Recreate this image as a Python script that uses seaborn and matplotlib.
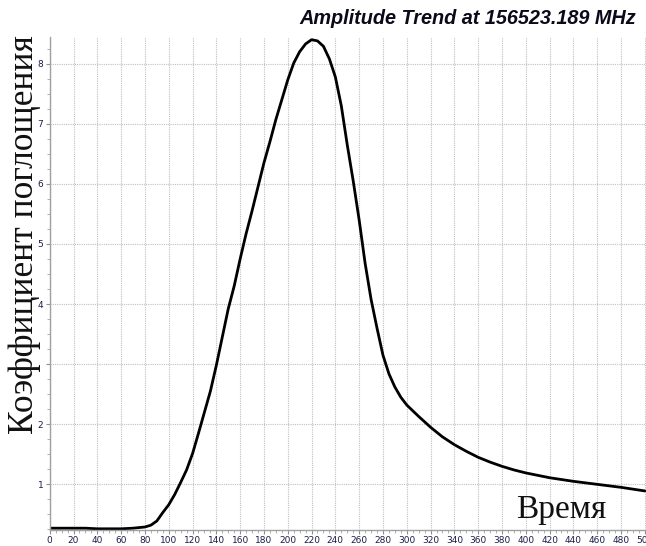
import matplotlib
matplotlib.use("Agg")
import matplotlib.pyplot as plt
import seaborn as sns
import pandas as pd
from matplotlib.ticker import MultipleLocator, FixedLocator

time_vals = [0, 10, 20, 30, 40, 50, 60, 70, 75, 80, 85, 90, 95, 100, 105, 110, 115, 120,
             125, 130, 135, 140, 145, 150, 155, 160, 165, 170, 175, 180, 185, 190, 195,
             200, 205, 210, 215, 220, 225, 230, 235, 240, 245, 250, 255, 260, 265, 270,
             275, 280, 285, 290, 295, 300, 310, 320, 330, 340, 350, 360, 370, 380, 390,
             400, 420, 440, 460, 480, 500]
amp_vals = [0.27, 0.27, 0.27, 0.27, 0.26, 0.26, 0.26, 0.27, 0.28, 0.29, 0.32, 0.39, 0.53,
            0.66, 0.83, 1.03, 1.24, 1.51, 1.85, 2.20, 2.55, 2.98, 3.45, 3.92, 4.30, 4.75,
            5.17, 5.55, 5.95, 6.35, 6.70, 7.07, 7.40, 7.73, 8.01, 8.20, 8.33, 8.40, 8.38,
            8.29, 8.08, 7.78, 7.30, 6.65, 6.05, 5.40, 4.68, 4.08, 3.60, 3.15, 2.84, 2.62,
            2.45, 2.32, 2.13, 1.95, 1.79, 1.66, 1.55, 1.45, 1.37, 1.30, 1.24, 1.19, 1.11,
            1.05, 1.00, 0.95, 0.89]

x_ticks = list(range(0, 501, 20))
x_tick_labels = [str(v) for v in x_ticks]
y_ticks = [1, 2, 3, 4, 5, 6, 7, 8]
y_tick_labels = ["1", "2", "", "4", "5", "6", "7", "8"]

title_text = "Amplitude Trend at 156523.189 MHz"
ylabel_text = "Коэффициент поглощения"
xlabel_text = "Время"

df = pd.DataFrame({"t": time_vals, "a": amp_vals})

sns.set_style("white")
plt.rcParams["font.family"] = ["DejaVu Sans"]

fig = plt.figure(figsize=(6.46, 5.46), dpi=100)
ax = fig.add_axes([49.7 / 646, 16 / 546, 1 - 49.7 / 646, (530 - 36.7) / 546])

sns.lineplot(data=df, x="t", y="a", ax=ax, color="black", linewidth=2.0)

ax.set_xlim(0, 501)
ax.set_ylim(0.24, 8.45)
ax.set_xlabel("")
ax.set_ylabel("")

ax.xaxis.set_major_locator(FixedLocator(x_ticks))
ax.set_xticklabels(x_tick_labels)
ax.xaxis.set_minor_locator(MultipleLocator(5))
ax.yaxis.set_major_locator(FixedLocator(y_ticks))
ax.set_yticklabels(y_tick_labels)
ax.yaxis.set_minor_locator(MultipleLocator(0.25))

tick_col = "#1c1c48"
ax.tick_params(axis="both", which="major", direction="out", length=3, width=0.8,
               color="#909090", labelsize=6.5, labelcolor=tick_col, pad=1.5)
ax.tick_params(axis="both", which="minor", direction="out", length=2, width=0.6,
               color="#a0a0a0")
ax.tick_params(axis="both", which="both", left=True, bottom=True)

ax.grid(True, which="major", linestyle=(0, (1, 1)), color="#c0c0c0", linewidth=0.8)
for side in ["top", "right"]:
    ax.spines[side].set_visible(False)
for side in ["left", "bottom"]:
    ax.spines[side].set_color("#a0a0a0")
    ax.spines[side].set_linewidth(1.0)

fig.text(636 / 646, 1 - 18 / 546, title_text, ha="right", va="center",
         fontsize=14.3, fontweight="bold", fontstyle="italic",
         family=["Liberation Sans", "DejaVu Sans"], color="#0a0a1a")

fig.text(25 / 646, 1 - 235 / 546, ylabel_text, rotation=90, ha="center", va="center",
         fontsize=25.5, family=["Liberation Serif", "DejaVu Serif"], color="#111111")

fig.text(561 / 646, 1 - 510 / 546, xlabel_text, ha="center", va="center",
         fontsize=24, family=["Liberation Serif", "DejaVu Serif"], color="#111111")

fig.savefig("out.png", dpi=100, facecolor="white")
